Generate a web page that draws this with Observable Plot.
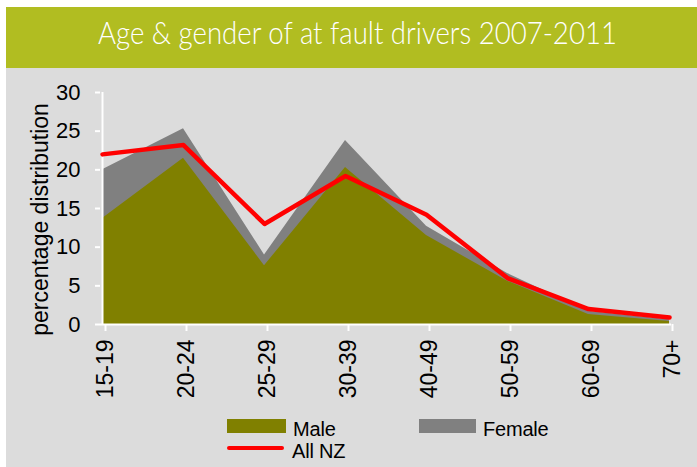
<!DOCTYPE html>
<html>
<head>
<meta charset="utf-8">
<script src="https://cdn.jsdelivr.net/npm/d3@7"></script>
<script src="https://cdn.jsdelivr.net/npm/@observablehq/plot@0.6"></script>
<style>
  html, body { margin: 0; padding: 0; background: #ffffff; }
  #wrap { position: absolute; left: 6px; top: 7px; width: 691px; height: 460px; background: #dcdcdc; overflow: hidden; }
  #title { position: absolute; left: 0; top: 0; width: 691px; height: 61px; background: #b1bd21; }
  #title span { position: absolute; left: 0; width: 703px; top: 7px; text-align: center; color: #ffffff;
    font-family: Lato, "Open Sans", sans-serif; font-weight: 300; font-size: 31px; line-height: 36px; white-space: nowrap;
    transform: scaleX(0.89); transform-origin: 351px 50%; }
  #chart { position: absolute; left: 0; top: 62px; }
  .lg { position: absolute; font-family: "Liberation Sans", Arial, sans-serif; font-size: 20px; line-height: 20px; color: #000; white-space: nowrap; letter-spacing: -0.2px; }
  .sw { position: absolute; }
</style>
</head>
<body>
<div id="wrap">
  <div id="title"><span>Age &amp; gender of at fault drivers 2007-2011</span></div>
  <div id="chart"></div>
  <div id="legend"></div>
</div>
<script>
const categories = ["15-19", "20-24", "25-29", "30-39", "40-49", "50-59", "60-69", "70+"];
const male   = [13.7, 21.5, 7.6, 20.3, 11.5, 5.6, 1.3, 0.4];
const female = [20.0, 25.3, 9.0, 23.8, 12.7, 6.6, 1.7, 0.6];
const allNZ  = [22.0, 23.2, 13.0, 19.2, 14.2, 6.0, 2.0, 0.9];
const yTicks = [0, 5, 10, 15, 20, 25, 30];
const yLabel = "percentage distribution";
const seriesNames = ["Male", "Female", "All NZ"];
const seriesColors = ["#808000", "#808080", "#ff0000"];

const rows = categories.map((c, i) => ({age: c, male: male[i], female: female[i], all: allNZ[i]}));

const chart = Plot.plot({
  width: 691,
  height: 345,
  marginLeft: 94,
  marginRight: 26,
  marginTop: 23,
  marginBottom: 90,
  style: {background: "transparent", fontFamily: "'Liberation Sans', Arial, sans-serif", fontSize: "22px", color: "#000"},
  x: {type: "point", domain: categories, padding: 0, label: null},
  y: {domain: [0, 30], label: null},
  marks: [
    Plot.areaY(rows, {x: "age", y: "female", fill: seriesColors[1]}),
    Plot.areaY(rows, {x: "age", y: "male", fill: seriesColors[0]}),
    Plot.ruleX([categories[0]], {stroke: "#ffffff", strokeWidth: 2}),
    Plot.ruleY([0], {stroke: "#ffffff", strokeWidth: 2}),
    Plot.axisY({ticks: yTicks, tickSize: 5, tickPadding: 15, stroke: "#ffffff", strokeWidth: 2, fill: "#000", fontSize: 22, label: null}),
    Plot.axisX({tickRotate: -90, tickSize: 7, tickPadding: 8, stroke: "#ffffff", strokeWidth: 2, fill: "#000", fontSize: 23, label: null, dx: 3}),
    Plot.lineY(rows, {x: "age", y: "all", stroke: seriesColors[2], strokeWidth: 4.5}),
    Plot.text([yLabel], {frameAnchor: "left", textAnchor: "middle", dx: -60, dy: 11, rotate: -90, fontSize: 23, fill: "#000"})
  ]
});
document.getElementById("chart").appendChild(chart);

// legend (HTML, below the svg)
const legend = document.getElementById("legend");
const items = [
  {name: seriesNames[0], color: seriesColors[0], kind: "box", sx: 221, sy: 412, sw: 59, sh: 14, tx: 287, ty: 412},
  {name: seriesNames[1], color: seriesColors[1], kind: "box", sx: 413, sy: 412, sw: 57, sh: 14, tx: 477, ty: 412},
  {name: seriesNames[2], color: seriesColors[2], kind: "line", sx: 221, sy: 439, sw: 57, sh: 4, tx: 286, ty: 434}
];
for (const it of items) {
  const s = document.createElement("div");
  s.className = "sw";
  s.style.left = it.sx + "px"; s.style.top = it.sy + "px";
  s.style.width = it.sw + "px"; s.style.height = it.sh + "px";
  s.style.background = it.color;
  if (it.kind === "line") s.style.borderRadius = "2px";
  legend.appendChild(s);
  const t = document.createElement("div");
  t.className = "lg";
  t.style.left = it.tx + "px"; t.style.top = it.ty + "px";
  t.textContent = it.name;
  legend.appendChild(t);
}
</script>
</body>
</html>
